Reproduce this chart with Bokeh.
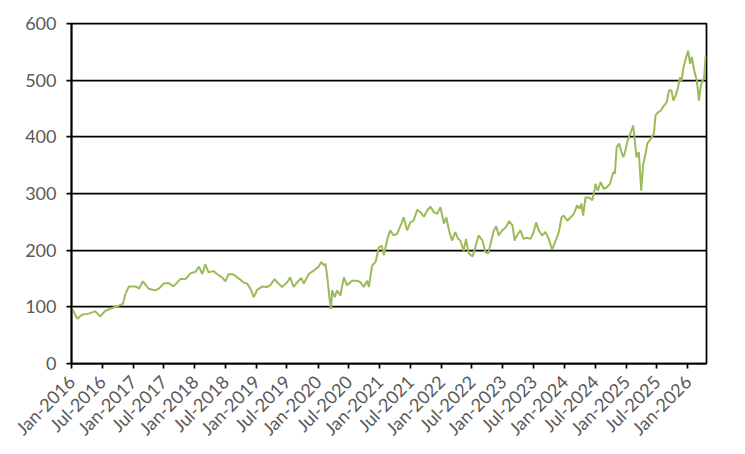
import math
import pandas as pd
from bokeh.plotting import figure
from bokeh.models import Range1d, MonthsTicker, DatetimeTickFormatter, FixedTicker
from bokeh.embed import file_html
from bokeh.resources import INLINE

dates = [
    "2016-01-01", "2016-02-04", "2016-03-03", "2016-04-12", "2016-05-21", "2016-06-20",
    "2016-07-19", "2016-08-28", "2016-10-07", "2016-10-31", "2016-11-16", "2016-12-06",
    "2017-01-15", "2017-02-04", "2017-02-27", "2017-04-02", "2017-05-11", "2017-06-01",
    "2017-06-30", "2017-07-29", "2017-08-28", "2017-10-07", "2017-11-06", "2017-12-06",
    "2018-01-05", "2018-01-25", "2018-02-14", "2018-03-04", "2018-03-23", "2018-04-22",
    "2018-05-12", "2018-06-11", "2018-07-01", "2018-07-20", "2018-08-19", "2018-09-09",
    "2018-09-28", "2018-10-17", "2018-11-07", "2018-11-26", "2018-12-16", "2019-01-05",
    "2019-02-05", "2019-03-04", "2019-03-23", "2019-04-18", "2019-05-11", "2019-06-02",
    "2019-07-01", "2019-07-20", "2019-08-09", "2019-08-30", "2019-09-24", "2019-10-08",
    "2019-11-07", "2019-12-06", "2020-01-05", "2020-01-20", "2020-02-05", "2020-02-14",
    "2020-02-25", "2020-03-08", "2020-03-18", "2020-03-24", "2020-04-09", "2020-04-23",
    "2020-05-12", "2020-06-02", "2020-06-21", "2020-07-20", "2020-08-20", "2020-09-09",
    "2020-09-28", "2020-10-18", "2020-10-28", "2020-11-17", "2020-12-07", "2020-12-26",
    "2021-01-12", "2021-01-25", "2021-02-15", "2021-03-04", "2021-03-24", "2021-04-14",
    "2021-05-09", "2021-05-22", "2021-06-12", "2021-07-01", "2021-07-20", "2021-08-11",
    "2021-08-30", "2021-09-19", "2021-10-09", "2021-10-28", "2021-11-17", "2021-12-07",
    "2021-12-26", "2022-01-16", "2022-01-30", "2022-02-15", "2022-03-05", "2022-03-24",
    "2022-04-10", "2022-04-23", "2022-05-13", "2022-05-27", "2022-06-12", "2022-07-05",
    "2022-07-21", "2022-08-10", "2022-09-01", "2022-09-20", "2022-10-05", "2022-10-19",
    "2022-11-08", "2022-11-22", "2022-12-07", "2022-12-27", "2023-01-17", "2023-02-06",
    "2023-02-26", "2023-03-11", "2023-03-25", "2023-04-14", "2023-05-03", "2023-05-23",
    "2023-06-13", "2023-07-02", "2023-07-16", "2023-08-01", "2023-08-21", "2023-09-10",
    "2023-09-29", "2023-10-19", "2023-11-09", "2023-11-28", "2023-12-14", "2023-12-27",
    "2024-01-17", "2024-02-06", "2024-02-25", "2024-03-15", "2024-03-29", "2024-04-10",
    "2024-04-20", "2024-05-04", "2024-05-23", "2024-06-03", "2024-06-13", "2024-06-28",
    "2024-07-02", "2024-07-16", "2024-08-02", "2024-08-21", "2024-09-07", "2024-09-26",
    "2024-10-16", "2024-10-25", "2024-11-05", "2024-11-19", "2024-12-03", "2024-12-14",
    "2024-12-24", "2025-01-08", "2025-01-27", "2025-02-11", "2025-02-20", "2025-03-02",
    "2025-03-16", "2025-03-30", "2025-04-11", "2025-04-25", "2025-05-05", "2025-05-24",
    "2025-06-13", "2025-06-23", "2025-07-07", "2025-07-23", "2025-08-12", "2025-08-28",
    "2025-09-11", "2025-09-25", "2025-10-07", "2025-10-21", "2025-11-04", "2025-11-14",
    "2025-11-24", "2025-12-06", "2025-12-19", "2026-01-02", "2026-01-14", "2026-01-24",
    "2026-02-07", "2026-02-23", "2026-03-07", "2026-03-17", "2026-03-27", "2026-04-06",
    "2026-04-16",
]
values = [
    99, 79, 86, 88, 92, 83,
    93, 98, 102, 105, 123, 136,
    136, 132, 145, 132, 129, 132,
    141, 142, 136, 149, 149, 159,
    162, 171, 158, 175, 161, 163,
    158, 152, 145, 158, 157, 152,
    148, 143, 141, 132, 117, 130,
    136, 135, 138, 149, 141, 135,
    143, 152, 135, 143, 151, 141,
    158, 164, 171, 179, 173, 176,
    152, 117, 96, 129, 117, 129,
    120, 152, 138, 146, 146, 143,
    135, 146, 135, 173, 179, 205,
    208, 191, 220, 235, 226, 229,
    247, 258, 235, 249, 252, 271,
    267, 259, 270, 277, 267, 264,
    276, 247, 258, 235, 217, 232,
    220, 217, 199, 220, 194, 189,
    205, 226, 217, 196, 194, 211,
    235, 242, 226, 235, 240, 251,
    244, 217, 226, 235, 220, 222,
    220, 232, 249, 235, 226, 232,
    220, 201, 217, 232, 258, 261,
    252, 258, 264, 279, 273, 282,
    261, 293, 293, 291, 288, 308,
    317, 305, 320, 308, 311, 317,
    338, 335, 382, 388, 373, 364,
    373, 393, 408, 420, 393, 364,
    373, 305, 352, 370, 388, 396,
    405, 438, 443, 446, 455, 461,
    482, 482, 464, 473, 488, 505,
    499, 523, 538, 552, 529, 541,
    517, 499, 464, 488, 499, 502,
    543,
]
y_ticks = [0, 100, 200, 300, 400, 500, 600]
x_start = "2016-01-01"
x_end = "2026-04-21"

x = pd.to_datetime(dates)

p = figure(frame_width=635, frame_height=340, x_axis_type="datetime",
           output_backend="svg", toolbar_location=None,
           min_border_left=71, min_border_right=31, min_border_top=23, min_border_bottom=80)
p.x_range = Range1d(pd.Timestamp(x_start), pd.Timestamp(x_end))
p.y_range = Range1d(min(y_ticks), max(y_ticks))

p.line(x, values, line_color="#9BBB59", line_width=2)

p.outline_line_color = "black"
p.outline_line_width = 1.75
p.xgrid.grid_line_color = None
p.ygrid.grid_line_color = "black"
p.ygrid.grid_line_width = 1.75
p.ygrid.ticker = FixedTicker(ticks=y_ticks)

p.yaxis.ticker = FixedTicker(ticks=y_ticks)
p.xaxis.ticker = MonthsTicker(months=[0, 6])
fmt = "%b-%Y"
p.xaxis.formatter = DatetimeTickFormatter(days=fmt, months=fmt, years=fmt)
p.xaxis.major_label_orientation = math.pi / 4

for ax in (p.xaxis, p.yaxis):
    ax.axis_line_color = "black"
    ax.axis_line_width = 1.75
    ax.major_tick_line_color = "black"
    ax.major_tick_line_width = 1.75
    ax.major_tick_out = 5
    ax.major_tick_in = 0
    ax.minor_tick_line_color = None
    ax.major_label_text_color = "#595959"
    ax.major_label_text_font = "Lato"
    ax.major_label_text_font_size = "18px"
p.yaxis.major_label_standoff = 10
p.xaxis.major_label_standoff = 10

open("out.html", "w").write(file_html(p, INLINE))
